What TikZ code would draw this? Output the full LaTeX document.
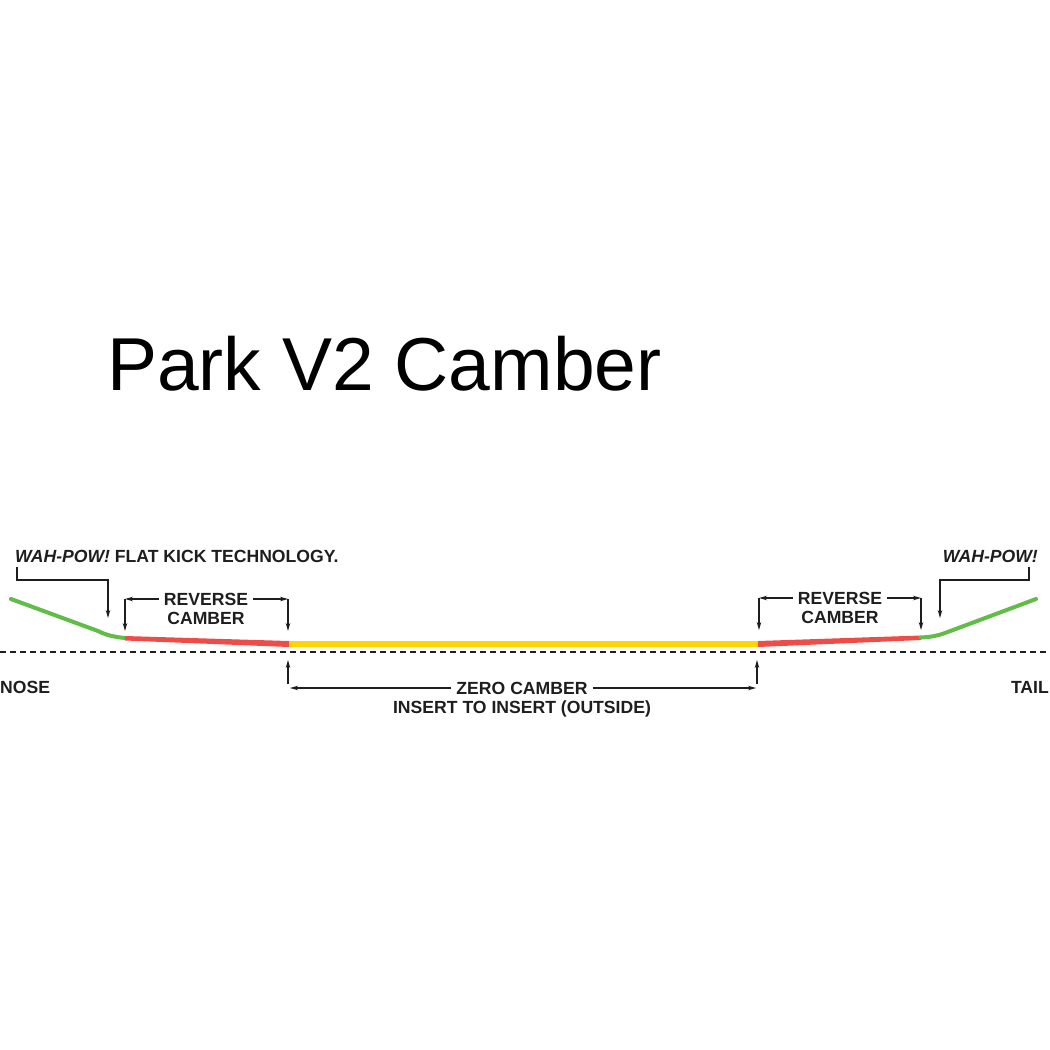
\documentclass[tikz,border=0pt]{standalone}
\usepackage{fontspec}
\setmainfont{Liberation Sans}
\usetikzlibrary{arrows.meta,positioning}
\definecolor{kickgreen}{RGB}{98,188,72}
\definecolor{revred}{RGB}{238,76,72}
\definecolor{zeroyellow}{RGB}{255,212,0}
\definecolor{inkgray}{RGB}{30,30,30}
\tikzset{
  lbl/.style={font=\fontsize{17.6}{19}\selectfont\bfseries, text=inkgray, inner sep=0pt},
  gaplbl/.style={lbl, inner xsep=5pt},
  arr/.style={draw=inkgray, line width=1.2pt, -{Stealth[length=8pt,width=4.5pt]}},
  board/.style={line width=4pt},
}

\begin{document}
\begin{tikzpicture}[x=1pt,y=-1pt]
    \useasboundingbox (0,0) rectangle (1050,1050);

    \node[anchor=base west, inner sep=0pt, font=\fontsize{75}{90}\selectfont] (title) at (107,390) {Park V2 Camber};

    % board profile
    \draw[board, kickgreen, line cap=round] (11,599) -- (98,631) .. controls (106,635) and (114,637) .. (125,638);
    \fill[revred] (125,636) -- (289,641) -- (289,647) -- (125,640.5) -- cycle;
    \fill[zeroyellow] (289,641) rectangle (758,647);
    \fill[revred] (758,641) -- (921,635.5) -- (921,640) -- (758,647) -- cycle;
    \draw[board, kickgreen, line cap=round] (921,637.5) .. controls (930,637) and (937,636) .. (945,633) -- (1036,599);

    % base line
    \draw[inkgray, line width=1.2pt, dash pattern=on 6pt off 4pt] (0,652) -- (1050,652);

    \node[lbl, anchor=base west] (nose) at (0,693) {NOSE};
    \node[lbl, anchor=base east] (tail) at (1049,693) {TAIL};

    % nose kick
    \node[lbl, anchor=base west] (kickL) at (15,562) {\itshape WAH-POW!\upshape{} FLAT KICK TECHNOLOGY.};
    \coordinate (kickLtip) at (108,618);
    \draw[arr] ([xshift=2pt,yshift=-5pt]kickL.south west) |- (108,580) -- (kickLtip);

    % tail kick
    \node[lbl, anchor=base east] (kickR) at (1038,562) {\itshape WAH-POW!};
    \coordinate (kickRtip) at (940,618);
    \draw[arr] ([xshift=-9pt,yshift=-5pt]kickR.south east) |- (940,580) -- (kickRtip);

    % reverse camber, nose side
    \node[gaplbl] (revL) at (206,599) {REVERSE};
    \node[lbl, below=6.5pt of revL] (camL) {CAMBER};
    \coordinate (revLa) at (125,599);
    \coordinate (revLb) at (288,599);
    \draw[arr] (revL.west) -- (revLa);
    \draw[arr] (revL.east) -- (revLb);
    \draw[arr] (revLa) -- (125,631);
    \draw[arr] (revLb) -- (288,631);

    % reverse camber, tail side
    \node[gaplbl] (revR) at (840,598) {REVERSE};
    \node[lbl, below=6.5pt of revR] (camR) {CAMBER};
    \coordinate (revRa) at (759,598);
    \coordinate (revRb) at (921,598);
    \draw[arr] (revR.west) -- (revRa);
    \draw[arr] (revR.east) -- (revRb);
    \draw[arr] (revRa) -- (759,630);
    \draw[arr] (revRb) -- (921,630);

    % zero camber
    \node[gaplbl] (zero) at (522,688) {ZERO CAMBER};
    \node[lbl, below=6.5pt of zero] (insert) {INSERT TO INSERT (OUTSIDE)};
    \coordinate (zeroa) at (290,688);
    \coordinate (zerob) at (756,688);
    \draw[arr] (zero.west) -- (zeroa);
    \draw[arr] (zero.east) -- (zerob);
    \draw[arr] (288,684) -- (288,660);
    \draw[arr] (757,684) -- (757,660);
\end{tikzpicture}
\end{document}
